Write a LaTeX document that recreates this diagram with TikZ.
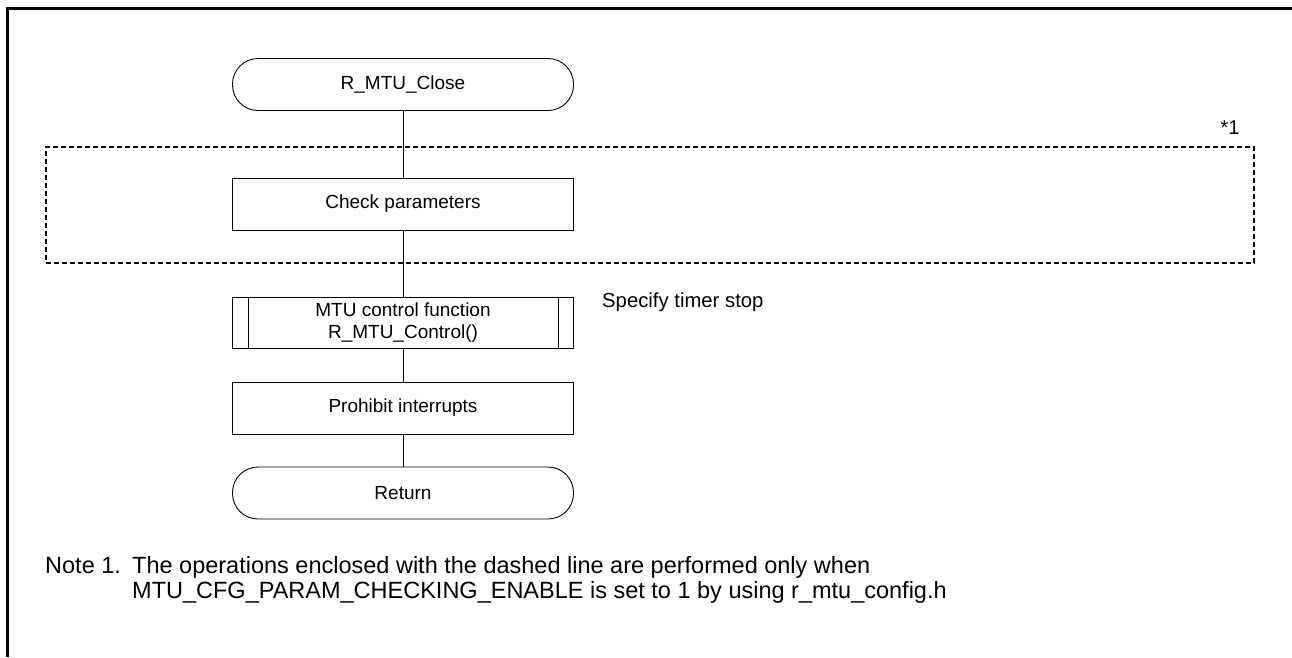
\documentclass[tikz,border=0pt]{standalone}
\usepackage{fontspec}
\setmainfont{Liberation Sans}
\begin{document}
\begin{tikzpicture}[x=1pt,y=-1pt,
  every node/.style={font=\fontsize{19}{22}\selectfont, inner sep=0pt},
  notetext/.style={anchor=base west, font=\fontsize{23.5}{27}\selectfont},
  proc/.style={draw, line width=0.9pt, minimum width=341pt, minimum height=52pt, align=center},
  term/.style={proc, rounded corners=25.5pt},
  flow/.style={line width=0.9pt},
  optbox/.style={draw, line width=1.2pt, dash pattern=on 5pt off 3pt, minimum width=1208pt, minimum height=116pt},
  frame/.style={line width=3pt}]
\useasboundingbox (0,0) rectangle (1292,657);

% page frame (top and left edges)
\draw[frame] (7,657) -- (7,8.5) -- (1292,8.5);

% optional parameter-check region
\node[optbox] (opt) at (650,205) {};
\node[font=\fontsize{20}{22}\selectfont] (mark) at (1230,128) {*1};

% flow steps
\node[term] (start) at (403,84.5) {R\_MTU\_Close};
\node[proc] (check) at (403,204) {Check parameters};
\node[proc, minimum height=51pt] (ctrl) at (403,322.5) {MTU control function\\R\_MTU\_Control()};
\node[proc] (irq) at (403,408) {Prohibit interrupts};
\node[term] (ret) at (403,493) {Return};

% predefined-process side bars
\draw[flow] ([xshift=16pt]ctrl.north west) -- ([xshift=16pt]ctrl.south west);
\draw[flow] ([xshift=-16pt]ctrl.north east) -- ([xshift=-16pt]ctrl.south east);

\node[anchor=base west, font=\fontsize{20.3}{22}\selectfont] (spec) at (602,307.5) {Specify timer stop};

% connectors
\draw[flow] (start) -- (check);
\draw[flow] (check) -- (ctrl);
\draw[flow] (ctrl) -- (irq);
\draw[flow] (irq) -- (ret);

% note
\node[notetext] (notehead) at (45,573.5) {Note 1.};
\node[notetext] (noteA) at (132,573.5) {The operations enclosed with the dashed line are performed only when};
\node[notetext] (noteB) at (132,598) {MTU\_CFG\_PARAM\_CHECKING\_ENABLE is set to 1 by using r\_mtu\_config.h};
\end{tikzpicture}
\end{document}
